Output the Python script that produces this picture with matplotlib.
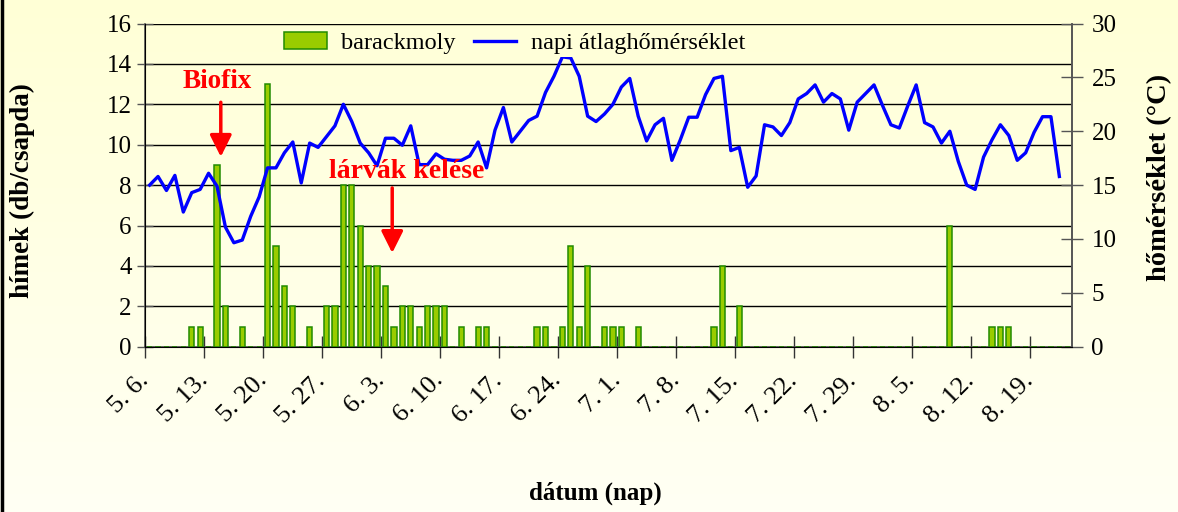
import numpy as np
import pandas as pd
import matplotlib.pyplot as plt
from matplotlib.lines import Line2D

plt.rcParams['font.family'] = ['Liberation Serif', 'DejaVu Serif']

# napok: 5.6. - 8.23.
datumok = pd.date_range('2000-05-06', periods=110)
datum_cimkek = [f"{d.month}. {d.day}." for d in datumok]

# barackmoly hímek (db/csapda), naponta
barackmoly = [
    0, 0, 0, 0, 0, 1, 1, 0, 9, 2,
    0, 1, 0, 0, 13, 5, 3, 2, 0, 1,
    0, 2, 2, 8, 8, 6, 4, 4, 3, 1,
    2, 2, 1, 2, 2, 2, 0, 1, 0, 1,
    1, 0, 0, 0, 0, 0, 1, 1, 0, 1,
    5, 1, 4, 0, 1, 1, 1, 0, 1, 0,
    0, 0, 0, 0, 0, 0, 0, 1, 4, 0,
    2, 0, 0, 0, 0, 0, 0, 0, 0, 0,
    0, 0, 0, 0, 0, 0, 0, 0, 0, 0,
    0, 0, 0, 0, 0, 6, 0, 0, 0, 0,
    1, 1, 1, 0, 0, 0, 0, 0, 0, 0,
]

# napi átlaghőmérséklet (°C)
homerseklet = [
    15.0, 15.8, 14.5, 15.9, 12.5, 14.3, 14.6, 16.1, 14.9, 11.1,
    9.65, 9.9, 12.1, 13.9, 16.6, 16.6, 18.0, 19.0, 15.2, 18.9,
    18.5, 19.5, 20.5, 22.5, 20.9, 18.9, 18.0, 16.8, 19.35, 19.35,
    18.7, 20.5, 16.9, 16.9, 17.9, 17.4, 17.3, 17.3, 17.7, 19.0,
    16.6, 20.1, 22.2, 19.0, 20.0, 21.0, 21.4, 23.6, 25.1, 26.9,
    26.8, 25.1, 21.4, 20.9, 21.6, 22.5, 24.1, 24.9, 21.4, 19.1,
    20.6, 21.2, 17.3, 19.2, 21.3, 21.3, 23.4, 24.9, 25.1, 18.2,
    18.5, 14.8, 15.85, 20.6, 20.4, 19.6, 20.8, 23.0, 23.5, 24.3,
    22.7, 23.5, 23.0, 20.1, 22.7, 23.5, 24.3, 22.4, 20.6, 20.3,
    22.35, 24.3, 20.8, 20.4, 18.9, 20.0, 17.2, 15.0, 14.6, 17.6,
    19.2, 20.6, 19.6, 17.3, 18.0, 19.9, 21.35, 21.35, 15.8,
]

W, H = 1178, 512
fig = plt.figure(figsize=(W / 100, H / 100), dpi=100)

# halvány sárga háttér, enyhe átmenettel
bg = fig.add_axes([0, 0, 1, 1], zorder=-10)
top_c = np.array([255, 255, 214]) / 255
bot_c = np.array([255, 255, 244]) / 255
t = np.linspace(0, 1, 256)[:, None]
grad = top_c * (1 - t) + bot_c * t
bg.imshow(grad[:, None, :], aspect='auto', extent=[0, 1, 0, 1])
bg.axis('off')

left, right, top, bottom = 145.4, 1072, 23.5, 346.7
ax = fig.add_axes([left / W, 1 - bottom / H, (right - left) / W, (bottom - top) / H])
ax.patch.set_visible(False)

x = np.arange(len(datumok))
ax.bar(x, barackmoly, width=0.62, color='#99CC00', edgecolor='#228B00',
       linewidth=1.1, label='barackmoly', zorder=3)
ax.set_ylim(0, 16)
ax.set_yticks(range(0, 17, 2))
ax.set_xlim(-0.5, len(datumok) - 0.5)
ax.set_xticks(np.arange(0, len(datumok), 7) - 0.5)
ax.set_xticklabels(datum_cimkek[::7], rotation=45, ha='right', va='center',
                   rotation_mode='anchor')
ax.yaxis.grid(True, color='black', linewidth=1.0, zorder=0)
ax.set_axisbelow(True)
for s in ['left', 'bottom', 'right']:
    ax.spines[s].set_color('#555555')
    ax.spines[s].set_linewidth(1.2)
ax.spines['top'].set_visible(False)
ax.tick_params(axis='y', direction='inout', length=12, width=1, colors='#555555',
               labelcolor='black', labelsize=18, pad=4)
ax.tick_params(axis='x', direction='inout', length=16, width=1, colors='#333333',
               labelcolor='black', labelsize=19, pad=14)

ax2 = ax.twinx()
ax2.patch.set_visible(False)
ax2.plot(x[:len(homerseklet)], homerseklet, color='#0000FF', linewidth=2.4,
         label='napi átlaghőmérséklet', zorder=4)
ax2.set_ylim(0, 30)
ax2.set_yticks(range(0, 31, 5))
ax2.spines['top'].set_visible(False)
ax2.spines['right'].set_color('#555555')
ax2.spines['right'].set_linewidth(1.2)
ax2.tick_params(axis='y', direction='inout', length=16, width=1, colors='#555555',
                labelcolor='black', labelsize=18, pad=6)

h1, l1 = ax.get_legend_handles_labels()
h2, l2 = ax2.get_legend_handles_labels()
leg = ax2.legend(h1 + h2, l1 + l2, ncol=2, loc='upper left',
                 bbox_to_anchor=(269 / W, 1 - 17 / H), bbox_transform=fig.transFigure,
                 fontsize=17.5, frameon=True, facecolor=tuple(top_c * 0.9 + bot_c * 0.1),
                 edgecolor='none', framealpha=1, fancybox=False, borderpad=0.12,
                 handlelength=1.75, handletextpad=0.6, columnspacing=0.75)
leg.set_zorder(5)

# feliratok nyíllal
ax.annotate('', xy=(8.45, 9.4), xytext=(8.45, 12.1),
            arrowprops=dict(arrowstyle='-|>,head_length=0.6,head_width=0.3',
                            color='#FF0000', lw=2.5, mutation_scale=22,
                            shrinkA=0, shrinkB=0), zorder=6)
ax.text(7.97, 13.15, 'Biofix', color='#FF0000', fontsize=19.5, fontweight='bold',
        ha='center', va='center', zorder=6)
ax.annotate('', xy=(28.8, 4.64), xytext=(28.8, 7.86),
            arrowprops=dict(arrowstyle='-|>,head_length=0.6,head_width=0.3',
                            color='#FF0000', lw=2.5, mutation_scale=22,
                            shrinkA=0, shrinkB=0), zorder=6)
ax2.text(30.5, (346.7 - 172) / 10.77, 'lárvák kelése', color='#FF0000', fontsize=20,
         fontweight='bold', ha='center', va='center', zorder=6)

fig.text(22 / W, 1 - 191 / H, 'hímek (db/csapda)', rotation=90, fontsize=19.5,
         fontweight='bold', ha='center', va='center')
fig.text(1160 / W, 1 - 177 / H, 'hőmérséklet (°C)', rotation=90, fontsize=20.5,
         fontweight='bold', ha='center', va='center')
fig.text(595 / W, 1 - 493 / H, 'dátum (nap)', fontsize=18, fontweight='bold',
         ha='center', va='center')

fig.add_artist(Line2D([1.5 / W, 1.5 / W], [0, 1], color='black', linewidth=2.5))

fig.savefig('out.png', dpi=100)
